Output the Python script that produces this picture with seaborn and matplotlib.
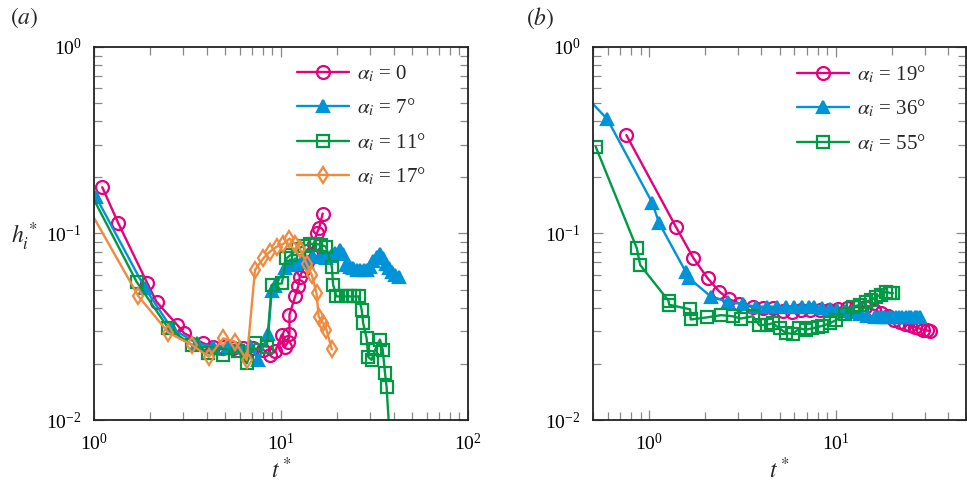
import matplotlib
matplotlib.use("Agg")
import matplotlib.pyplot as plt
import seaborn as sns
import numpy as np

# ---------------- data: panel (a) ----------------
t_a0 = [1.107, 1.349, 1.93, 2.16, 2.79, 3.03, 3.84, 4.35, 4.91, 5.56, 6.29, 7.12, 8.04, 8.73,
        9.3, 10.1, 10.5, 10.9, 11.1, 11.1, 11.9, 12.35, 12.6, 13.1, 13.7, 14.4, 15.0, 15.5, 16.0, 16.7]
h_a0 = [0.177, 0.1135, 0.054, 0.043, 0.0323, 0.0292, 0.0258, 0.0247, 0.0245, 0.0243, 0.0243, 0.0242,
        0.0238, 0.0223, 0.0233, 0.0287, 0.0247, 0.0262, 0.029, 0.0367, 0.046, 0.052, 0.0587, 0.0637,
        0.0706, 0.078, 0.088, 0.100, 0.107, 0.128]

t_a7 = [1.025, 1.875, 2.6, 3.54, 4.35, 5.2, 6.0, 6.8, 7.57, 8.55, 8.92, 9.3, 10.5, 11.2, 11.9, 12.8,
        13.7, 14.9, 16.5, 17.5, 18.5, 19.5, 20.6, 21.5, 22.4, 23.4, 24.4, 25.5, 26.6, 27.7, 28.7,
        30.0, 31.2, 32.5, 33.8, 35.0, 36.3, 37.7, 39.2, 40.8, 42.5]
h_a7 = [0.157, 0.0508, 0.031, 0.0258, 0.0247, 0.025, 0.0245, 0.025, 0.021, 0.029, 0.049, 0.052,
        0.065, 0.068, 0.069, 0.070, 0.0706, 0.075, 0.077, 0.0736, 0.076, 0.079, 0.0816, 0.078, 0.068,
        0.066, 0.065, 0.064, 0.064, 0.064, 0.064, 0.066, 0.071, 0.075, 0.078, 0.074, 0.069, 0.065,
        0.062, 0.060, 0.0587]

t_a11 = [0.9, 1.69, 2.5, 3.33, 4.09, 4.91, 5.9, 6.56, 7.26, 8.4, 8.92, 10.1, 10.7, 11.3, 12.4, 13.3,
         14.3, 15.3, 16.3, 17.4, 18.7, 19.0, 19.8, 21.0, 22.2, 23.4, 24.7, 26.0, 27.0, 27.5, 28.7,
         29.3, 30.5, 32.0, 33.8, 35.0, 36.0, 36.7, 38.0]
h_a11 = [0.186, 0.0551, 0.031, 0.0253, 0.0228, 0.0223, 0.0233, 0.0201, 0.0258, 0.0247, 0.053, 0.054,
         0.0736, 0.077, 0.083, 0.086, 0.088, 0.088, 0.087, 0.085, 0.0664, 0.053, 0.046, 0.046, 0.046,
         0.046, 0.046, 0.046, 0.039, 0.0331, 0.0274, 0.0218, 0.021, 0.024, 0.027, 0.0238, 0.0178,
         0.015, 0.0085]

t_a17 = [0.9, 1.726, 2.5, 3.33, 4.12, 4.91, 5.68, 6.56, 7.26, 8.04, 8.73, 9.5, 10.3, 11.1, 11.9,
         12.6, 13.7, 14.6, 15.5, 15.9, 16.8, 17.5, 18.7]
h_a17 = [0.146, 0.0462, 0.0294, 0.0253, 0.0218, 0.0274, 0.0263, 0.021, 0.0637, 0.0736, 0.080, 0.085,
         0.088, 0.094, 0.088, 0.083, 0.069, 0.060, 0.0477, 0.0358, 0.0331, 0.0305, 0.0239]

# ---------------- data: panel (b) ----------------
t_b19 = [0.755, 1.39, 1.725, 2.06, 2.38, 2.69, 3.05, 3.59, 4.1, 4.6, 5.2, 5.8, 6.5, 7.3, 8.2, 9.2,
         10.3, 11.5, 12.9, 14.4, 16.0, 17.5, 19.0, 20.5, 22.0, 23.5, 25.0, 26.5, 28.0, 29.5, 31.0, 32.0]
h_b19 = [0.337, 0.1088, 0.074, 0.0575, 0.0488, 0.0444, 0.0421, 0.0403, 0.040, 0.0398, 0.0385, 0.038,
         0.039, 0.0388, 0.0388, 0.0388, 0.0395, 0.040, 0.0403, 0.0403, 0.039, 0.0375, 0.036, 0.0345,
         0.0335, 0.0328, 0.0322, 0.0316, 0.031, 0.0305, 0.0302, 0.030]

t_b36 = [0.45, 0.597, 1.04, 1.13, 1.57, 1.64, 2.15, 2.64, 3.17, 3.76, 4.31, 4.87, 5.45, 6.0, 6.6,
         7.2, 7.67, 8.5, 9.3, 10.2, 11.2, 12.3, 13.5, 14.8, 16.2, 17.0, 17.7, 18.5, 19.3, 20.1, 21.0,
         21.9, 22.8, 23.7, 24.6, 25.5, 26.5, 27.4, 28.3]
h_b36 = [0.553, 0.41, 0.146, 0.114, 0.0624, 0.0575, 0.0458, 0.043, 0.0418, 0.0405, 0.0405, 0.0405,
         0.0405, 0.0405, 0.0405, 0.0405, 0.0405, 0.040, 0.0395, 0.039, 0.0385, 0.038, 0.0372, 0.0362,
         0.0355, 0.0355, 0.0355, 0.0355, 0.0355, 0.0355, 0.0355, 0.0355, 0.0355, 0.0355, 0.0355,
         0.0355, 0.0355, 0.0355, 0.0355]

t_b55 = [0.517, 0.859, 0.895, 1.27, 1.28, 1.66, 1.67, 2.04, 2.43, 2.8, 3.11, 3.6, 3.9, 4.3, 4.6, 5.0,
         5.44, 5.9, 6.4, 6.9, 7.5, 8.0, 8.5, 9.3, 10.1, 11.2, 12.4, 13.5, 14.6, 15.5, 16.5, 17.6,
         18.7, 19.5, 20.3]
h_b55 = [0.292, 0.0833, 0.0678, 0.0436, 0.0415, 0.0392, 0.0346, 0.0355, 0.0365, 0.036, 0.035, 0.036,
         0.0322, 0.0325, 0.033, 0.031, 0.0292, 0.029, 0.031, 0.0305, 0.031, 0.0315, 0.032, 0.033,
         0.0344, 0.037, 0.0405, 0.0415, 0.043, 0.044, 0.0458, 0.047, 0.0488, 0.048, 0.0478]

labels_a = [r'$\alpha_i$ = 0', r'$\alpha_i$ = 7°', r'$\alpha_i$ = 11°', r'$\alpha_i$ = 17°']
labels_b = [r'$\alpha_i$ = 19°', r'$\alpha_i$ = 36°', r'$\alpha_i$ = 55°']

PINK = '#E5007E'
BLUE = '#0093D8'
GREEN = '#009A44'
ORANGE = '#F08A3E'

sns.set_theme(style='ticks')
plt.rcParams['font.family'] = ['Liberation Serif', 'DejaVu Serif']
plt.rcParams['mathtext.fontset'] = 'stix'

fig = plt.figure(figsize=(9.67, 4.92), dpi=100)
axA = fig.add_axes([94/967, 1-420/492, 374/967, 373/492])
axB = fig.add_axes([593/967, 1-420/492, 373/967, 373/492])

def draw(ax, t, h, color, marker, label, ms, filled=False):
    sns.lineplot(x=t, y=h, ax=ax, sort=False, estimator=None, color=color, lw=1.7,
                 marker=marker, markersize=ms, markeredgecolor=color,
                 markerfacecolor=(color if filled else 'none'), markeredgewidth=1.6,
                 label=label, clip_on=True)

draw(axA, t_a0, h_a0, PINK, 'o', labels_a[0], 9.3)
draw(axA, t_a7, h_a7, BLUE, '^', labels_a[1], 8.5, filled=True)
draw(axA, t_a11, h_a11, GREEN, 's', labels_a[2], 8.8)
draw(axA, t_a17, h_a17, ORANGE, 'd', labels_a[3], 8.5)

draw(axB, t_b19, h_b19, PINK, 'o', labels_b[0], 9.3)
draw(axB, t_b36, h_b36, BLUE, '^', labels_b[1], 8.5, filled=True)
draw(axB, t_b55, h_b55, GREEN, 's', labels_b[2], 8.8)

for ax, xl in ((axA, (1, 100)), (axB, (0.5, 50))):
    ax.set_xscale('log')
    ax.set_yscale('log')
    ax.set_xlim(*xl)
    ax.set_ylim(0.01, 1)
    ax.set_xlabel('')
    ax.set_ylabel('')
    ax.tick_params(which='both', direction='in', top=True, right=True, color='#888888',
                   labelsize=14, labelcolor='black')
    ax.tick_params(which='major', length=7, width=0.9, pad=9)
    ax.tick_params(which='minor', length=6, width=0.9)
    for s in ax.spines.values():
        s.set_linewidth(1.3)
        s.set_color('#222222')
    ax.grid(False)

legkw = dict(loc='upper left', frameon=False, fontsize=15, handlelength=2.5, handletextpad=0.4,
             labelspacing=0.6, borderaxespad=0, borderpad=0)
axA.legend(bbox_to_anchor=(0.543, 0.955), **legkw)
axB.legend(bbox_to_anchor=(0.547, 0.955), **legkw)

fig.text(281/967, 1-470/492, r'$t^*$', ha='center', va='center', fontsize=17)
fig.text(779/967, 1-470/492, r'$t^*$', ha='center', va='center', fontsize=17)
fig.text(24/967, 1-237/492, r'$h_i^*$', ha='center', va='center', fontsize=17)
fig.text(24/967, 1-18/492, r'$(a)$', ha='center', va='center', fontsize=17)
fig.text(540/967, 1-18/492, r'$(b)$', ha='center', va='center', fontsize=17)

fig.savefig('out.png', dpi=100)
